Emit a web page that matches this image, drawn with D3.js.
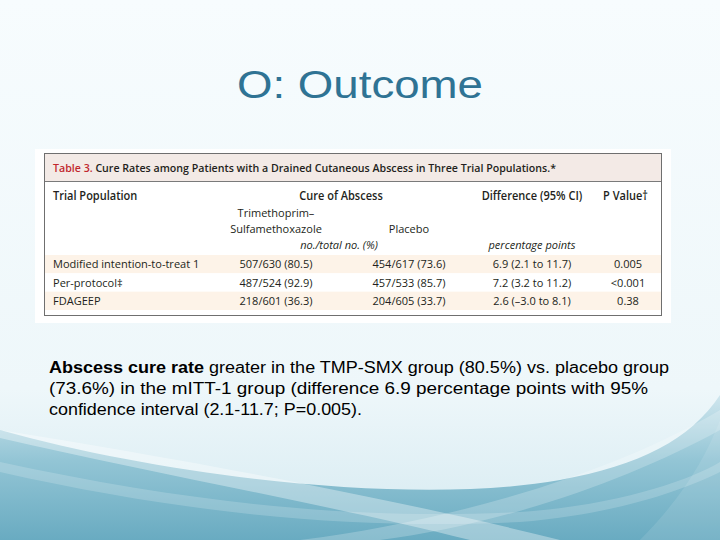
<!DOCTYPE html>
<html><head><meta charset="utf-8">
<script src="https://cdn.jsdelivr.net/npm/d3@7"></script>
<style>html,body{margin:0;padding:0;background:#fff}svg{display:block}</style>
</head><body>
<script>
// ---- data ----
const slideTitle = "O: Outcome";
const tableCaptionLabel = "Table 3.";
const tableCaption = "Cure Rates among Patients with a Drained Cutaneous Abscess in Three Trial Populations.*";
const populations = ["Modified intention-to-treat 1", "Per-protocol\u2021", "FDAGEEP"];
const tmpCured = [507, 487, 218];
const tmpTotal = [630, 524, 601];
const tmpPct = [80.5, 92.9, 36.3];
const plaCured = [454, 457, 204];
const plaTotal = [617, 533, 605];
const plaPct = [73.6, 85.7, 33.7];
const diffPts = [6.9, 7.2, 2.6];
const ciLow = [2.1, 3.2, -3.0];
const ciHigh = [11.7, 11.2, 8.1];
const pValues = ["0.005", "<0.001", "0.38"];
const bodyLines = [
  [{t:"Abscess cure rate", b:true}, {t:" greater in the TMP-SMX group (80.5%) vs. placebo group", b:false}],
  [{t:"(73.6%) in the mITT-1 group (difference 6.9 percentage points with 95%", b:false}],
  [{t:"confidence interval (2.1-11.7; P=0.005).", b:false}]
];

const W = 720, H = 540;
const svg = d3.select("body").append("svg").attr("width", W).attr("height", H);
const defs = svg.append("defs");

// background
const bg = defs.append("linearGradient").attr("id","bg").attr("x1",0).attr("y1",0).attr("x2",0).attr("y2",1);
bg.append("stop").attr("offset","0").attr("stop-color","#f7fcfe");
bg.append("stop").attr("offset","0.72").attr("stop-color","#eef7fa");
bg.append("stop").attr("offset","1").attr("stop-color","#d5eaf1");
svg.append("rect").attr("width",W).attr("height",H).attr("fill","url(#bg)");

const wv = defs.append("linearGradient").attr("id","wv").attr("x1",0).attr("y1",0).attr("x2",0).attr("y2",1);
wv.append("stop").attr("offset","0").attr("stop-color","#cfe6ee");
wv.append("stop").attr("offset","0.45").attr("stop-color","#93c5d5");
wv.append("stop").attr("offset","1").attr("stop-color","#69abc1");

// teal wave base
svg.append("path").attr("d","M0,430 C180,480 420,505 560,480 C640,465 690,440 720,395 L720,540 L0,540 Z")
  .attr("fill","url(#wv)");
// light sweeping bands
svg.append("path").attr("d","M0,438 C160,475 330,505 470,540 L560,540 C400,500 200,462 0,430 Z")
  .attr("fill","#ffffff").attr("opacity",0.35);
svg.append("path").attr("d","M0,462 C200,505 360,520 520,512 C620,505 690,480 720,462 L720,472 C680,492 610,515 520,522 C360,530 190,515 0,472 Z")
  .attr("fill","#ffffff").attr("opacity",0.18);
svg.append("path").attr("d","M300,540 C460,520 620,470 720,410 L720,430 C630,480 500,525 380,540 Z")
  .attr("fill","#ffffff").attr("opacity",0.22);
svg.append("path").attr("d","M640,540 C680,500 705,460 720,420 L720,540 Z")
  .attr("fill","#ffffff").attr("opacity",0.10);

// slide title
svg.append("text").attr("x",237).attr("y",98)
  .attr("font-family","Liberation Sans, Arial, sans-serif").attr("font-size",38)
  .attr("textLength",246).attr("lengthAdjust","spacingAndGlyphs")
  .attr("fill","#2f7394").text(slideTitle);

// ---- table image ----
const TF = "'Open Sans', Lato, sans-serif";
const ink = "#231f20";
svg.append("rect").attr("x",35).attr("y",149).attr("width",636).attr("height",174).attr("fill","#ffffff");
const box = {x0:44, x1:662, y0:153, y1:316};
svg.append("rect").attr("x",box.x0).attr("y",box.y0).attr("width",box.x1-box.x0).attr("height",28).attr("fill","#f3eae6");

const y = d3.scaleBand().domain(populations).range([255, 310]).paddingInner(0);
svg.selectAll("rect.row").data(populations).join("rect").attr("class","row")
  .attr("x",box.x0).attr("width",box.x1-box.x0)
  .attr("y",d=>y(d)).attr("height",y.bandwidth())
  .attr("fill",(d,i)=> i%2===0 ? "#fdf3e8" : "#ffffff");

svg.append("line").attr("x1",box.x0).attr("x2",box.x1).attr("y1",181.5).attr("y2",181.5).attr("stroke","#7a7a7a");
svg.append("rect").attr("x",box.x0+0.5).attr("y",box.y0+0.5).attr("width",box.x1-box.x0-1).attr("height",box.y1-box.y0-1)
  .attr("fill","none").attr("stroke","#6f6f6f").attr("stroke-width",1);

const cap = svg.append("text").attr("x",53).attr("y",172).attr("font-family",TF).attr("font-size",10.8).attr("font-weight","600").attr("fill",ink)
  .attr("textLength",503).attr("lengthAdjust","spacingAndGlyphs");
cap.append("tspan").attr("fill","#c1272d").text(tableCaptionLabel + " ");
cap.append("tspan").text(tableCaption);

// cell text, condensed to the widths the source image shows
function t(x, yy, s, opts={}) {
  const el = svg.append("text").attr("x",x).attr("y",yy).attr("font-family",TF).attr("font-size",opts.size||11.6)
    .attr("font-weight",opts.bold?"600":"normal").attr("font-style",opts.italic?"italic":"normal")
    .attr("text-anchor",opts.anchor||"start").attr("fill",ink).text(s);
  const w = el.node().getComputedTextLength();
  el.attr("textLength", w*0.95).attr("lengthAdjust","spacingAndGlyphs");
  return el;
}
t(53,200,"Trial Population",{bold:true});
t(341,200,"Cure of Abscess",{bold:true,anchor:"middle"});
t(532,200,"Difference (95% CI)",{bold:true,anchor:"middle"});
t(603,200,"P Value\u2020",{bold:true});
t(276,217,"Trimethoprim\u2013",{anchor:"middle"});
t(276,233,"Sulfamethoxazole",{anchor:"middle"});
t(409,233,"Placebo",{anchor:"middle"});
t(339,249,"no./total no. (%)",{italic:true,anchor:"middle"});
t(532,249,"percentage points",{italic:true,anchor:"middle"});

const col = d3.scaleOrdinal().domain(["pop","tmp","pla","diff","p"]).range([53,276,409,532,628]);
const fmt1 = d3.format(".1f");
const sgn = v => v < 0 ? "\u2013" + fmt1(-v) : fmt1(v);
populations.forEach((p,i)=>{
  const yy = y(p) + y.bandwidth()/2 + 4;
  t(col("pop"), yy, p);
  t(col("tmp"), yy, `${tmpCured[i]}/${tmpTotal[i]} (${fmt1(tmpPct[i])})`, {anchor:"middle"});
  t(col("pla"), yy, `${plaCured[i]}/${plaTotal[i]} (${fmt1(plaPct[i])})`, {anchor:"middle"});
  t(col("diff"), yy, `${fmt1(diffPts[i])} (${sgn(ciLow[i])} to ${sgn(ciHigh[i])})`, {anchor:"middle"});
  t(col("p"), yy, pValues[i], {anchor:"middle"});
});

// body text (the slide is stretched horizontally)
const BF = "Liberation Sans, Arial, sans-serif";
const lineWidths = [620, 599, 313];
bodyLines.forEach((line,i)=>{
  const tx = svg.append("text").attr("x",49).attr("y",373 + i*21).attr("font-family",BF).attr("font-size",16).attr("fill","#000")
    .attr("textLength",lineWidths[i]).attr("lengthAdjust","spacingAndGlyphs");
  line.forEach(s=> tx.append("tspan").attr("font-weight", s.b?"bold":"normal").text(s.t));
});
</script>
</body></html>
